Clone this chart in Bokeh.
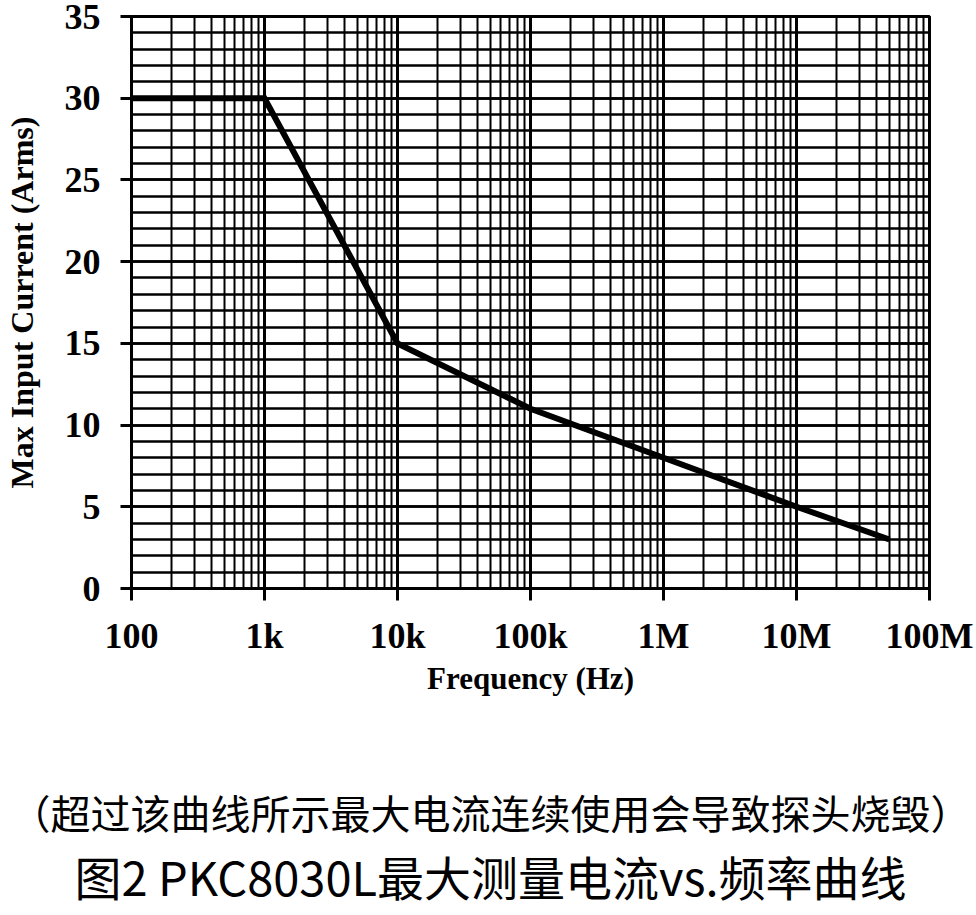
from bokeh.plotting import figure
from bokeh.models import FixedTicker, Range1d, Title, LinearAxis
from bokeh.embed import file_html
from bokeh.resources import INLINE

# ---- data ----
freq_hz = [100, 1e3, 1e4, 1e5, 1e6, 1e7, 5e7]
max_current_arms = [30, 30, 15, 11, 8, 5, 3]

x_tick_values = [1e2, 1e3, 1e4, 1e5, 1e6, 1e7, 1e8]
x_tick_labels = ["100", "1k", "10k", "100k", "1M", "10M", "100M"]
y_tick_values = [0, 5, 10, 15, 20, 25, 30, 35]

x_label = "Frequency (Hz)"
y_label = "Max Input Current (Arms)"
caption_note = "（超过该曲线所示最大电流连续使用会导致探头烧毁）"
caption_title = "图2 PKC8030L最大测量电流vs.频率曲线"

# ---- chart ----
p = figure(frame_width=798, frame_height=572, x_axis_type="log",
           x_range=Range1d(1e2, 1e8), y_range=Range1d(0, 35),
           output_backend="svg", toolbar_location=None,
           min_border_left=131, min_border_right=47,
           min_border_top=16, min_border_bottom=310)

x_minor = [k * 10 ** n for n in range(2, 8) for k in range(2, 10)]
y_minor = list(range(0, 36))
xt = FixedTicker(ticks=x_tick_values, minor_ticks=x_minor)
yt = FixedTicker(ticks=y_tick_values, minor_ticks=y_minor)
p.xaxis.ticker = xt
p.yaxis.ticker = yt
p.xgrid.ticker = xt
p.ygrid.ticker = yt
p.xaxis.major_label_overrides = {v: s for v, s in zip(x_tick_values, x_tick_labels)}

for g, mw, nw in ((p.xgrid, 3, 2), (p.ygrid, 2.5, 2.5)):
    g.grid_line_color = "black"
    g.grid_line_width = mw
    g.grid_line_alpha = 1
    g.minor_grid_line_color = "black"
    g.minor_grid_line_width = nw

p.outline_line_color = "black"
p.outline_line_width = 3
p.outline_line_alpha = 1

for ax in (p.xaxis, p.yaxis):
    ax.axis_line_width = 3
    ax.axis_line_color = "black"
    ax.major_tick_line_width = 3
    ax.major_tick_line_color = "black"
    ax.major_tick_in = 0
    ax.minor_tick_in = 0
    ax.minor_tick_out = 0
    ax.major_label_text_font = "Liberation Serif"
    ax.major_label_text_font_style = "bold"
    ax.major_label_text_font_size = "36px"
    ax.major_label_text_color = "black"
    ax.axis_label_text_font = "Liberation Serif"
    ax.axis_label_text_font_style = "bold"
    ax.axis_label_text_color = "black"

p.xaxis.major_tick_out = 12
p.yaxis.major_tick_out = 11
p.xaxis.major_label_standoff = 15
p.yaxis.major_label_standoff = 20
p.xaxis.axis_label = x_label
p.yaxis.axis_label = y_label
p.xaxis.axis_label_text_font_size = "31px"
p.yaxis.axis_label_text_font_size = "32px"
p.xaxis.axis_label_standoff = 2
p.yaxis.axis_label_standoff = 22

p.line(freq_hz, max_current_arms, line_color="black", line_width=6,
       line_join="miter")

# ---- blank spacer axis (white on white) between the x axis and the captions ----
gap_tick = x_tick_values[3]
gap = LinearAxis(ticker=FixedTicker(ticks=[gap_tick]), axis_line_color="white",
                 major_tick_line_color="white", major_tick_line_width=1,
                 major_tick_in=0, major_tick_out=82, minor_tick_in=0,
                 minor_tick_out=0, major_label_standoff=0,
                 major_label_overrides={gap_tick: ""},
                 major_label_text_font_size="1px")
p.add_layout(gap, "below")

# ---- captions below the chart ----
t1 = Title(text=caption_note, align="left", offset=-121, standoff=0,
           vertical_align="bottom",
           text_font="Noto Sans CJK SC", text_font_size="40px",
           text_font_style="normal", text_color="black")
t2 = Title(text=caption_title, align="left", offset=-57, standoff=0,
           vertical_align="top",
           text_font="Noto Sans CJK SC", text_font_size="47px",
           text_font_style="normal", text_color="black")
p.add_layout(t1, "below")
p.add_layout(t2, "below")

open("out.html", "w").write(file_html(p, INLINE))
